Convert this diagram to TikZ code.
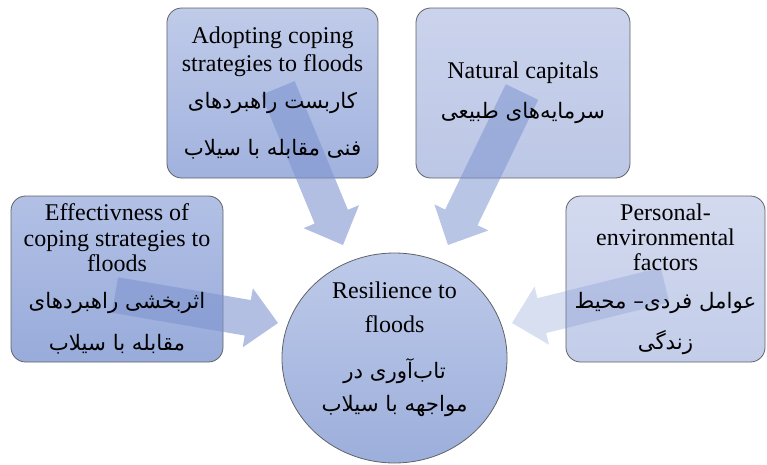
\documentclass[tikz,border=0pt]{standalone}
\usepackage{fontspec}
\setmainfont{Liberation Serif}
\newfontfamily\persfont[Script=Arabic]{DejaVu Sans}
\usetikzlibrary{calc,shapes.geometric}
\TeXXeTstate=1

\definecolor{adoptTop}{HTML}{C0CBE9}
\definecolor{adoptBot}{HTML}{A1B2DE}
\definecolor{natTop}{HTML}{CBD3EC}
\definecolor{natBot}{HTML}{BCC7E6}
\definecolor{effTop}{HTML}{B2C0E5}
\definecolor{effBot}{HTML}{98ABDA}
\definecolor{persTop}{HTML}{D3DAEF}
\definecolor{persBot}{HTML}{C3CDE9}
\definecolor{resTop}{HTML}{BECAE9}
\definecolor{resBot}{HTML}{9CAEDB}
\definecolor{edge}{HTML}{5F6268}
\definecolor{arrowblue}{HTML}{7F95D0}

\newcommand\engl{\fontsize{18}{21}\selectfont}
\newcommand\pers{\persfont\fontsize{16}{21}\selectfont}

% block arrow from tail #2 to tip #3
\newcommand\fatarrow[3]{%
  \coordinate (hb) at ($(#3)!23pt!(#2)$);
  \fill[#1] ($(#2)!13.5pt!90:(#3)$) -- ($(hb)!13.5pt!90:(#3)$)
    -- ($(hb)!22.5pt!90:(#3)$) -- (#3) -- ($(hb)!22.5pt!-90:(#3)$)
    -- ($(hb)!13.5pt!-90:(#3)$) -- ($(#2)!13.5pt!-90:(#3)$) -- cycle;
}

\begin{document}
\begin{tikzpicture}[x=0.75pt,y=-0.75pt,
  box/.style={draw=edge, line width=0.6pt, rounded corners=11pt, inner sep=0pt},
  hub/.style={ellipse, draw=edge, line width=0.6pt, inner sep=0pt, minimum width=168.8pt, minimum height=157.5pt},
  words/.style={align=center, inner sep=0pt, font=\engl},
  flow/.style={fill=arrowblue, fill opacity=#1}]
  \useasboundingbox (0,0) rectangle (767,464);

  % the four factors and the hub
  \node[box, top color=adoptTop, bottom color=adoptBot, minimum width=158.3pt, minimum height=127.5pt] (adopt) at (272.5,93) {};
  \node[box, top color=natTop, bottom color=natBot, minimum width=160.5pt, minimum height=127.5pt] (natural) at (523,93) {};
  \node[box, top color=effTop, bottom color=effBot, minimum width=159pt, minimum height=124.5pt] (effect) at (117,279) {};
  \node[box, top color=persTop, bottom color=persBot, minimum width=149.3pt, minimum height=124.5pt] (personal) at (665.5,279) {};
  \node[hub, top color=resTop, bottom color=resBot] (resil) at (394.5,358) {};

  % arrows towards the hub
  \coordinate (adoptTail) at (278,88);   \coordinate (adoptTip) at (343,245);
  \coordinate (natTail) at (522,92);     \coordinate (natTip) at (448,245);
  \coordinate (effTail) at (115,295);    \coordinate (effTip) at (278,323);
  \coordinate (persTail) at (665,285);   \coordinate (persTip) at (512,323);
  \fatarrow{flow=0.6}{adoptTail}{adoptTip}
  \fatarrow{flow=0.55}{natTail}{natTip}
  \fatarrow{flow=0.6}{effTail}{effTip}
  \fatarrow{flow=0.3}{persTail}{persTip}

  % texts
  \node[words] (adoptText) at (adopt)
    {Adopting coping\\ strategies to floods\\[7pt]
     \pers\beginR کاربست راهبردهای\endR\\[14pt] \pers\beginR فنی مقابله با سیلاب\endR};
  \node[words] (naturalText) at (natural)
    {Natural capitals\\[9pt] \pers\beginR سرمایه‌های طبیعی\endR};
  \node[words] (effectText) at (effect)
    {Effectivness of\\[-2pt] coping strategies to\\[-2pt] floods\\[7pt]
     \pers\beginR اثربخشی راهبردهای\endR\\[10pt] \pers\beginR مقابله با سیلاب\endR};
  \node[words] (personalText) at (personal)
    {Personal-\\[-2pt] environmental\\[-2pt] factors\\[7pt]
     \pers\beginR عوامل فردی– محیط\endR\\[10pt] \pers\beginR زندگی\endR};
  \node[words] (resilText) at (394.5,349)
    {Resilience to\\[5pt] floods\\[13pt]
     \pers\beginR تاب‌آوری در\endR\\[4pt] \pers\beginR مواجهه با سیلاب\endR};
\end{tikzpicture}
\end{document}
